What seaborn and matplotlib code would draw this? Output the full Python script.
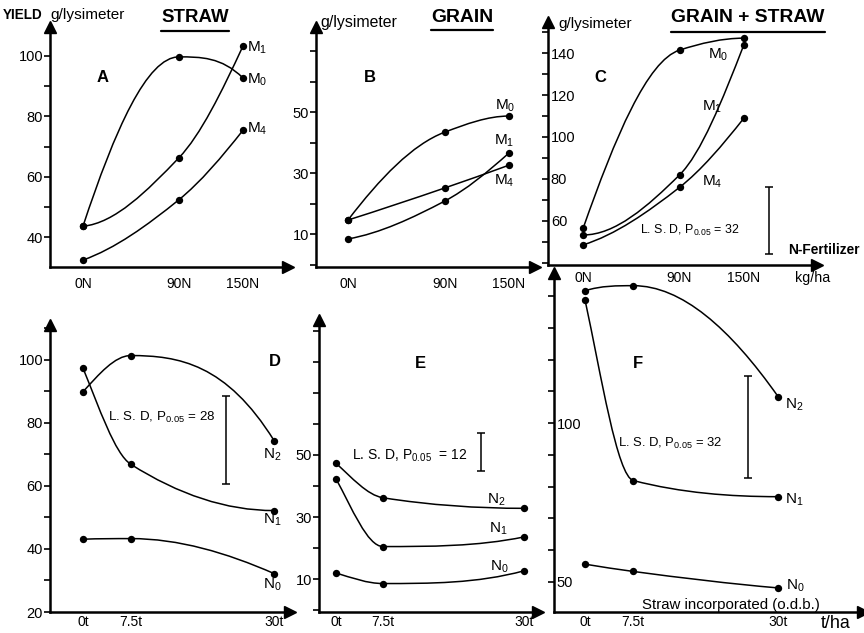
import numpy as np
import pandas as pd
import matplotlib
matplotlib.use("Agg")
import matplotlib.pyplot as plt
from matplotlib.path import Path
from matplotlib.patches import PathPatch
from matplotlib.lines import Line2D
from matplotlib.ticker import FixedLocator, MultipleLocator
import seaborn as sns

# x categories
n_doses = [0, 90, 150]
n_labels = ["0N", "90N", "150N"]
straw_doses = [0, 7.5, 30]
straw_labels = ["0t", "7.5t", "30t"]

# A - straw yield (g/lysimeter) by N fertilizer
straw_m0 = [43.6, 99.7, 92.7]
straw_m1 = [43.6, 66.3, 103.3]
straw_m4 = [32.4, 52.4, 75.4]

# B - grain yield
grain_m0 = [14.6, 43.4, 48.7]
grain_m1 = [8.4, 20.8, 36.6]
grain_m4 = [14.6, 25.1, 32.6]

# C - grain + straw
total_m0 = [56.5, 141.4, 147.1]
total_m1 = [53.3, 81.9, 143.8]
total_m4 = [48.6, 76.0, 108.9]

# D - straw yield by straw incorporated
straw_n0 = [43.1, 43.3, 32.2]
straw_n1 = [97.4, 66.9, 52.2]
straw_n2 = [89.9, 101.4, 74.4]

# E - grain yield
grain_n0 = [12.0, 8.6, 12.7]
grain_n1 = [42.3, 20.5, 23.6]
grain_n2 = [47.3, 36.2, 32.8]

# F - grain + straw
total_n0 = [55.5, 53.2, 48.0]
total_n1 = [138.9, 81.9, 76.8]
total_n2 = [141.8, 143.4, 108.4]

# least significant differences (C, D, E, F)
lsd_c, lsd_d, lsd_e, lsd_f = 32, 28, 12, 32

W, H = 864, 633

sns.set_theme(style="white")
plt.rcParams["font.family"] = ["Liberation Sans", "DejaVu Sans"]
plt.rcParams["mathtext.fontset"] = "custom"
plt.rcParams["mathtext.rm"] = "Liberation Sans"
plt.rcParams["mathtext.it"] = "Liberation Sans:italic"

fig = plt.figure(figsize=(W / 100, H / 100), dpi=100)
renderer = fig.canvas.get_renderer()


def px_axes(left, top, right, bottom):
    return fig.add_axes([left / W, 1 - bottom / H, (right - left) / W, (bottom - top) / H])


def ftext(x, y, s, width=None, **kw):
    kw.setdefault("ha", "left")
    kw.setdefault("va", "center")
    kw.setdefault("color", "black")
    t = fig.text(x / W, 1 - y / H, s, **kw)
    if width is not None:
        # scale font so the text spans roughly the same width as in the scan
        w = t.get_window_extent(renderer).width
        t.set_fontsize(t.get_fontsize() * width / w)
    return t


def pchip_slopes(x, y):
    h = np.diff(x)
    d = np.diff(y) / h
    n = len(x)
    m = np.zeros(n)
    for k in range(1, n - 1):
        if d[k - 1] * d[k] > 0:
            w1 = 2 * h[k] + h[k - 1]
            w2 = h[k] + 2 * h[k - 1]
            m[k] = (w1 + w2) / (w1 / d[k - 1] + w2 / d[k])

    def end(h0, h1, d0, d1):
        s = ((2 * h0 + h1) * d0 - h0 * d1) / (h0 + h1)
        if np.sign(s) != np.sign(d0):
            return 0.0
        if np.sign(d0) != np.sign(d1) and abs(s) > abs(3 * d0):
            return 3 * d0
        return s

    m[0] = end(h[0], h[1], d[0], d[1])
    m[-1] = end(h[-1], h[-2], d[-1], d[-2])
    return m


def smooth_line(ax, xs, ys):
    x = np.asarray(xs, float)
    y = np.asarray(ys, float)
    m = pchip_slopes(x, y)
    verts = [(x[0], y[0])]
    codes = [Path.MOVETO]
    for i in range(len(x) - 1):
        h = x[i + 1] - x[i]
        verts += [(x[i] + h / 3, y[i] + m[i] * h / 3),
                  (x[i + 1] - h / 3, y[i + 1] - m[i + 1] * h / 3),
                  (x[i + 1], y[i + 1])]
        codes += [Path.CURVE4] * 3
    ax.add_patch(PathPatch(Path(verts, codes), fill=False, lw=1.1, ec="black"))


def setup(ax, xlim, ylim, xticks, xlabels, yticks, inside=False, xpad=6):
    ax.set_xlim(*xlim)
    ax.set_ylim(*ylim)
    for s in ["top", "right"]:
        ax.spines[s].set_visible(False)
    for s in ["left", "bottom"]:
        ax.spines[s].set_linewidth(1.8)
        ax.spines[s].set_color("black")
    ax.set_xticks(xticks)
    ax.set_xticklabels(xlabels)
    ax.yaxis.set_major_locator(FixedLocator(yticks))
    ax.yaxis.set_minor_locator(MultipleLocator(10))
    ax.tick_params(axis="x", length=0, pad=xpad, labelsize=10, colors="black")
    ax.tick_params(axis="y", which="both", direction="out", length=4, width=1.2,
                   left=True, labelsize=10.5, colors="black",
                   pad=-6 if inside else 1)
    if inside:
        for lbl in ax.get_yticklabels():
            lbl.set_horizontalalignment("left")
    ax.set_xlabel("")
    ax.set_ylabel("")
    ax.patch.set_alpha(0)
    ax.plot(0, 1, "^", color="black", ms=9, transform=ax.transAxes, clip_on=False)
    ax.plot(1, 0, ">", color="black", ms=9, transform=ax.transAxes, clip_on=False)


def draw_series(ax, xs, series):
    rows = []
    for name, ys in series.items():
        smooth_line(ax, xs, ys)
        rows += [{"dose": x, "yield": y, "series": name} for x, y in zip(xs, ys)]
    df = pd.DataFrame(rows)
    sns.scatterplot(data=df, x="dose", y="yield", color="black", s=28,
                    edgecolor="black", linewidth=0, ax=ax, legend=False, zorder=3)
    ax.set_xlabel("")
    ax.set_ylabel("")


def lsd_bar(ax, x, center, lsd):
    ax.errorbar([x], [center], yerr=[lsd / 2], fmt="none", ecolor="black",
                elinewidth=1.1, capsize=3, capthick=1.1)


# panel A
axA = px_axes(50, 27, 288, 267)
draw_series(axA, n_doses, {"M0": straw_m0, "M1": straw_m1, "M4": straw_m4})
setup(axA, (-30.9, 192.2), (30.1, 109.6), n_doses, n_labels, [40, 60, 80, 100], xpad=7)

# panel B
axB = px_axes(316, 27, 535, 267)
draw_series(axB, n_doses, {"M0": grain_m0, "M1": grain_m1, "M4": grain_m4})
setup(axB, (-29.8, 174.2), (-0.8, 77.9), n_doses, n_labels, [10, 30, 50], xpad=7)

# panel C
axC = px_axes(548, 22, 817, 265)
draw_series(axC, n_doses, {"M0": total_m0, "M1": total_m1, "M4": total_m4})
setup(axC, (-32.8, 218.4), (39.0, 154.8), n_doses, n_labels, [60, 80, 100, 120, 140],
      inside=True, xpad=4)
lsd_bar(axC, 174, 60.2, lsd_c)

# panel D
axD = px_axes(50, 325, 290, 612)
draw_series(axD, straw_doses, {"N0": straw_n0, "N1": straw_n1, "N2": straw_n2})
setup(axD, (-5.18, 32.5), (20, 111.1), straw_doses, straw_labels, [20, 40, 60, 80, 100], xpad=2)
lsd_bar(axD, 22.4, 74.6, lsd_d)

# panel E
axE = px_axes(319, 320, 538, 612)
draw_series(axE, straw_doses, {"N0": grain_n0, "N1": grain_n1, "N2": grain_n2})
setup(axE, (-2.71, 32.23), (-0.56, 93.4), straw_doses, straw_labels, [10, 30, 50], xpad=2)
lsd_bar(axE, 23.1, 50.9, lsd_e)

# panel F
axF = px_axes(554, 273, 863, 612)
draw_series(axF, straw_doses, {"N0": total_n0, "N1": total_n1, "N2": total_n2})
setup(axF, (-4.82, 43.2), (40.4, 147.4), straw_doses, straw_labels, [50, 100],
      inside=True, xpad=2)
lsd_bar(axF, 25.3, 98.8, lsd_f)

# headings
ftext(3, 15, "YIELD", width=40, fontsize=9, fontweight="bold")
ftext(50, 15, "g/lysimeter", width=75, fontsize=9)
ftext(320, 22, "g/lysimeter", width=77, fontsize=9)
ftext(558, 24, "g/lysimeter", width=74, fontsize=9)

# titles: centred where the scan has them, a bit wider since no condensed font
titles = [("STRAW", 195, 54, 31), ("GRAIN", 462, 50, 30), ("GRAIN + STRAW", 748, 123, 32)]
for t, xc, w, yu in titles:
    txt = ftext(xc, 17, t, width=w * 1.25, fontsize=14, fontweight="bold", ha="center")
    bb = txt.get_window_extent(renderer)
    fig.add_artist(Line2D([bb.x0 / W, bb.x1 / W], [1 - yu / H, 1 - yu / H],
                          color="black", lw=1.6))

# panel letters
for s, x, y in [("A", 103, 77), ("B", 370, 77), ("C", 600, 77),
                ("D", 275, 362), ("E", 420, 363), ("F", 638, 364)]:
    ftext(x, y, s, fontsize=12, fontweight="bold", ha="center")

# series labels
series_labels = [
    ("M_1", 247, 48), ("M_0", 247, 80), ("M_4", 247, 129),
    ("M_0", 495, 106), ("M_1", 494, 141), ("M_4", 494, 181),
    ("M_0", 708, 55), ("M_1", 702, 107), ("M_4", 702, 182),
    ("N_2", 263, 455), ("N_1", 263, 520), ("N_0", 263, 585),
    ("N_2", 487, 500), ("N_1", 489, 529), ("N_0", 490, 567),
    ("N_2", 785, 405), ("N_1", 785, 500), ("N_0", 786, 586),
]
for s, x, y in series_labels:
    ftext(x, y, r"$\mathregular{%s}$" % s, fontsize=11)

# LSD texts
lsd_texts = [(lsd_c, 640, 230, 99, " "), (lsd_d, 108, 417, 107, " "),
             (lsd_e, 352, 456, 115, "  "), (lsd_f, 618, 443, 104, " ")]
for v, x, y, w, gap in lsd_texts:
    ftext(x, y, r"L. S. D, P$_{\mathit{0.05}}$" + gap + "= %d" % v, width=w, fontsize=10)

# axis notes
ftext(788, 250, "N-Fertilizer", width=72, fontsize=9.5, fontweight="bold")
ftext(795, 278, "kg/ha", width=35, fontsize=10)
ftext(642, 605, "Straw incorporated (o.d.b.)", width=178, fontsize=10)
ftext(821, 624, "t/ha", width=30, fontsize=10)

fig.savefig("out.png", dpi=100)
